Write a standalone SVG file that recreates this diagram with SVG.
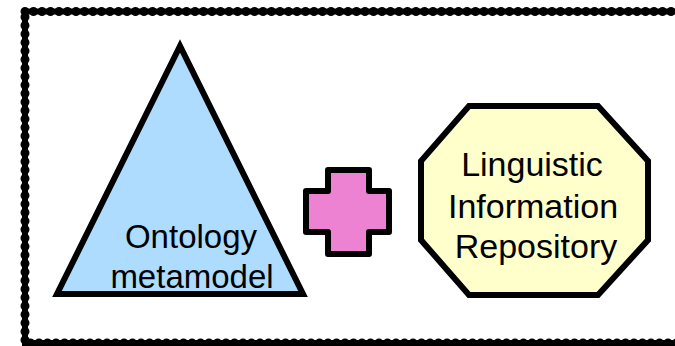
<svg xmlns="http://www.w3.org/2000/svg" width="675" height="346" viewBox="0 0 675 346">
<style>
.lbl{font-family:"Liberation Sans",Arial,sans-serif;font-size:33px;fill:#000;text-anchor:middle}
.big{font-size:34px}
.shape{stroke:#000;stroke-width:6}
.rope{fill:none;stroke:#000}
</style>
<rect width="675" height="346" fill="#fff"/>
<g id="frame">
<rect class="rope" x="25" y="11.5" width="670" height="331.5" stroke-width="6"/>
<rect class="rope" x="25" y="11.5" width="670" height="331.5" stroke-width="9" stroke-linecap="round" stroke-dasharray="0 8.5"/>
</g>
<g id="connectors"></g>
<g id="ontology">
<polygon class="shape" points="180,46 57,294 303,294" fill="#ADDCFF" stroke-linejoin="miter"/>
<text class="lbl" x="191" y="248">Ontology</text>
<text class="lbl" x="192" y="288">metamodel</text>
</g>
<g id="plus">
<polygon class="shape" points="328,170 369,170 369,191 389,191 389,232 369,232 369,254 328,254 328,232 306,232 306,191 328,191" fill="#EE82D2" stroke-linejoin="round"/>
</g>
<g id="repository">
<polygon class="shape" points="469,106 598,106 648,161 648,240 598,295 469,295 421,240 421,161" fill="#FFFFCC" stroke-linejoin="miter"/>
<text class="lbl big" x="532" y="176">Linguistic</text>
<text class="lbl big" x="533" y="218">Information</text>
<text class="lbl big" x="536" y="258">Repository</text>
</g>
</svg>
